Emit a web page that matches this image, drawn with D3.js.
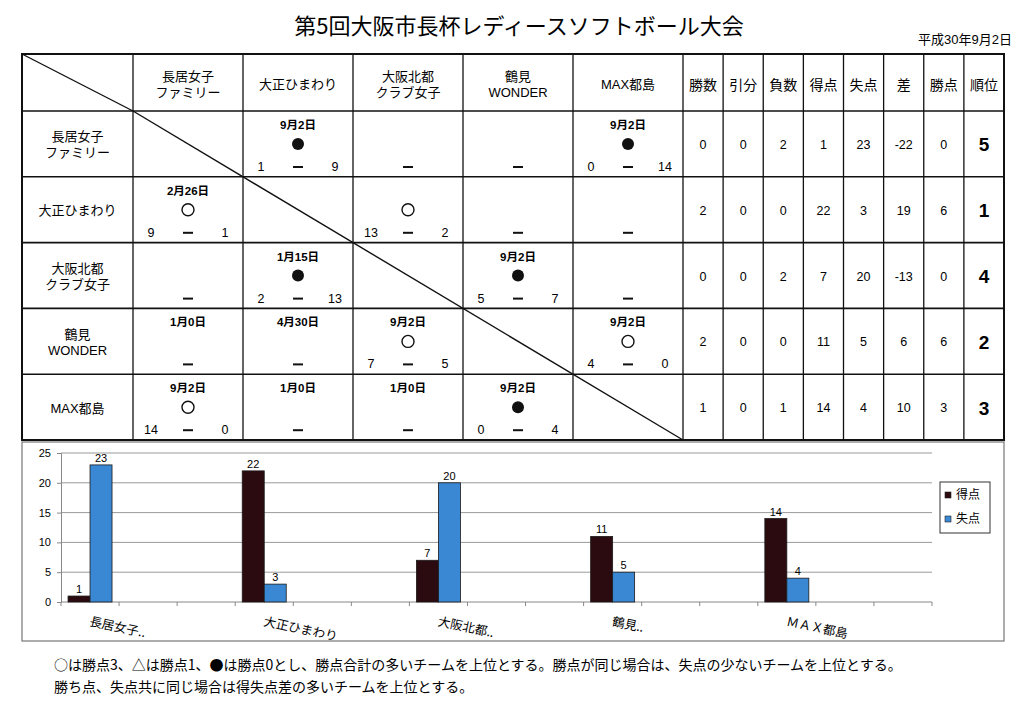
<!DOCTYPE html>
<html>
<head>
<meta charset="utf-8">
<script src="https://cdn.jsdelivr.net/npm/d3@7"></script>
<style>
  body { margin: 0; background: #fff; }
  text { font-family: "Liberation Sans", "Noto Sans CJK JP", sans-serif; fill: #000; }
</style>
</head>
<body>
<script>
// team names (table) and chart labels
var teamLines = [["長居女子", "ファミリー"], ["大正ひまわり"], ["大阪北都", "クラブ女子"], ["鶴見", "WONDER"], ["MAX都島"]];
var statHeaders = ["勝数", "引分", "負数", "得点", "失点", "差", "勝点", "順位"];

// match results, row team vs column team (null on the diagonal)
var matchDates = [
  [null, "9月2日", "", "", "9月2日"],
  ["2月26日", null, "", "", ""],
  ["", "1月15日", null, "9月2日", ""],
  ["1月0日", "4月30日", "9月2日", null, "9月2日"],
  ["9月2日", "1月0日", "1月0日", "9月2日", null]
];
var matchMarks = [
  [null, "●", "", "", "●"],
  ["○", null, "○", "", ""],
  ["", "●", null, "●", ""],
  ["", "", "○", null, "○"],
  ["○", "", "", "●", null]
];
var matchScores = [
  [null, [1, 9], null, null, [0, 14]],
  [[9, 1], null, [13, 2], null, null],
  [null, [2, 13], null, [5, 7], null],
  [null, null, [7, 5], null, [4, 0]],
  [[14, 0], null, null, [0, 4], null]
];

// standings
var wins = [0, 2, 0, 2, 1];
var draws = [0, 0, 0, 0, 0];
var losses = [2, 0, 2, 0, 1];
var scored = [1, 22, 7, 11, 14];
var conceded = [23, 3, 20, 5, 4];
var diff = [-22, 19, -13, 6, 10];
var points = [0, 6, 0, 6, 3];
var rank = [5, 1, 4, 2, 3];

// chart (every team takes three category rows, only the first labelled)
var chartCategories = ["長居女子..", "", "", "大正ひまわり", "", "", "大阪北都..", "", "", "鶴見..", "", "", "ＭＡＸ都島", "", ""];
var chartScored = [1, null, null, 22, null, null, 7, null, null, 11, null, null, 14, null, null];
var chartConceded = [23, null, null, 3, null, null, 20, null, null, 5, null, null, 4, null, null];
var seriesNames = ["得点", "失点"];
var seriesColors = ["#2c0b10", "#3a88d4"];
var yTicks = [0, 5, 10, 15, 20, 25];

var notes = [
  "○は勝点3、△は勝点1、●は勝点0とし、勝点合計の多いチームを上位とする。勝点が同じ場合は、失点の少ないチームを上位とする。",
  "勝ち点、失点共に同じ場合は得失点差の多いチームを上位とする。"
];

var svg = d3.select("body").append("svg")
  .attr("width", 1024)
  .attr("height", 712);

// title
svg.append("text")
  .attr("x", 519).attr("y", 34)
  .attr("text-anchor", "middle")
  .style("font-size", "22px")
  .style("font-family", "Noto Sans CJK JP, sans-serif")
  .text("第5回大阪市長杯レディースソフトボール大会");
svg.append("text")
  .attr("x", 1012).attr("y", 44)
  .attr("text-anchor", "end")
  .attr("textLength", 94)
  .style("font-size", "13px")
  .text("平成30年9月2日");

// ---------- table ----------
var left = 22, nameRight = 133, matchRight = 683, right = 1004;
var headTop = 54, headBottom = 111, bottom = 440;

var colX = d3.scaleBand().domain(d3.range(5)).range([nameRight, matchRight]);
var statX = d3.scaleBand().domain(d3.range(8)).range([matchRight, right]);
var rowY = d3.scaleBand().domain(d3.range(5)).range([headBottom, bottom]);

var grid = svg.append("g").attr("stroke", "#111").attr("fill", "none");

// horizontal lines
[headTop, headBottom].concat(d3.range(1, 5).map(function(i) { return rowY(i); })).concat([bottom])
  .forEach(function(y) {
    grid.append("line").attr("x1", left).attr("x2", right).attr("y1", y).attr("y2", y)
      .attr("stroke-width", 1.6);
  });
// vertical lines
[left, nameRight].concat(d3.range(1, 5).map(function(i) { return colX(i); }))
  .concat(d3.range(8).map(function(i) { return statX(i); })).concat([right])
  .forEach(function(x) {
    grid.append("line").attr("x1", x).attr("x2", x).attr("y1", headTop).attr("y2", bottom)
      .attr("stroke-width", 1.3);
  });
grid.append("rect").attr("x", left).attr("y", headTop)
  .attr("width", right - left).attr("height", bottom - headTop)
  .attr("stroke-width", 2);

// diagonals
grid.append("line").attr("x1", left).attr("y1", headTop).attr("x2", nameRight).attr("y2", headBottom)
  .attr("stroke-width", 1.4);
grid.append("line").attr("x1", nameRight).attr("y1", headBottom).attr("x2", matchRight).attr("y2", bottom)
  .attr("stroke-width", 1.4);

function multiLine(g, lines, cx, cy, size) {
  var gap = size + 3;
  lines.forEach(function(s, i) {
    g.append("text")
      .attr("x", cx)
      .attr("y", cy + (i - (lines.length - 1) / 2) * gap)
      .attr("text-anchor", "middle")
      .attr("dominant-baseline", "central")
      .style("font-size", size + "px")
      .text(s);
  });
}

var txt = svg.append("g");
var headMid = (headTop + headBottom) / 2 + 2;

// column headers
teamLines.forEach(function(lines, i) {
  multiLine(txt, lines, colX(i) + colX.bandwidth() / 2, headMid, 13);
});
statHeaders.forEach(function(h, i) {
  multiLine(txt, [h], statX(i) + statX.bandwidth() / 2, headMid, 14);
});

// row headers + cells
var statCols = [wins, draws, losses, scored, conceded, diff, points, rank];
teamLines.forEach(function(lines, r) {
  var top = rowY(r), h = rowY.bandwidth();
  multiLine(txt, lines, (left + nameRight) / 2, top + h / 2 + 1, 13);

  d3.range(5).forEach(function(c) {
    if (r === c) return;
    var x0 = colX(c), x1 = x0 + colX.bandwidth(), cx = (x0 + x1) / 2;
    if (matchDates[r][c]) {
      txt.append("text").attr("x", cx).attr("y", top + 14)
        .attr("text-anchor", "middle").attr("dominant-baseline", "central")
        .style("font-size", "11.5px").style("font-weight", "bold")
        .text(matchDates[r][c]);
    }
    if (matchMarks[r][c] === "●") {
      txt.append("circle").attr("cx", cx).attr("cy", top + 33).attr("r", 6).attr("fill", "#111");
    } else if (matchMarks[r][c] === "○") {
      txt.append("circle").attr("cx", cx).attr("cy", top + 33).attr("r", 6)
        .attr("fill", "none").attr("stroke", "#111").attr("stroke-width", 1.4);
    }
    var sy = top + 56;
    txt.append("line").attr("x1", cx - 5).attr("x2", cx + 5).attr("y1", sy).attr("y2", sy)
      .attr("stroke", "#111").attr("stroke-width", 2);
    var sc = matchScores[r][c];
    if (sc) {
      txt.append("text").attr("x", x0 + 18).attr("y", sy)
        .attr("text-anchor", "middle").attr("dominant-baseline", "central")
        .style("font-size", "12.5px").text(sc[0]);
      txt.append("text").attr("x", x1 - 18).attr("y", sy)
        .attr("text-anchor", "middle").attr("dominant-baseline", "central")
        .style("font-size", "12.5px").text(sc[1]);
    }
  });

  statCols.forEach(function(arr, k) {
    var isRank = k === 7;
    txt.append("text")
      .attr("x", statX(k) + statX.bandwidth() / 2)
      .attr("y", top + h / 2 + 1)
      .attr("text-anchor", "middle").attr("dominant-baseline", "central")
      .style("font-size", isRank ? "19px" : "12.5px")
      .style("font-weight", isRank ? "bold" : "normal")
      .text(arr[r] < 0 ? "-" + Math.abs(arr[r]) : arr[r]);
  });
});

// ---------- chart ----------
svg.append("rect")
  .attr("x", 22).attr("y", 442).attr("width", 982).attr("height", 199)
  .attr("fill", "none").attr("stroke", "#777").attr("stroke-width", 1.2);

var x = d3.scaleBand().domain(d3.range(chartCategories.length)).range([61, 932]);
var xs = d3.scaleBand().domain(seriesNames).range([0, x.bandwidth()]).paddingOuter(0.32);
var y = d3.scaleLinear().domain([0, 25]).range([602, 453]);

var chart = svg.append("g");

chart.selectAll("line.grid").data(yTicks.slice(1)).enter().append("line")
  .attr("class", "grid")
  .attr("x1", 61).attr("x2", 932)
  .attr("y1", function(d) { return y(d); }).attr("y2", function(d) { return y(d); })
  .attr("stroke", "#9a9a9a").attr("stroke-width", 1);

var yAxis = chart.append("g")
  .attr("transform", "translate(61,0)")
  .call(d3.axisLeft(y).tickValues(yTicks).tickSize(4).tickPadding(6));
yAxis.select(".domain").attr("stroke", "#888");
yAxis.selectAll(".tick line").attr("stroke", "#888");
yAxis.selectAll("text").style("font-size", "11px").style("font-family", "Liberation Sans, sans-serif").attr("fill", "#111");

// x axis line with ticks at category boundaries
chart.append("line").attr("x1", 61).attr("x2", 932).attr("y1", 602).attr("y2", 602)
  .attr("stroke", "#888");
chart.selectAll("line.xt").data(d3.range(chartCategories.length + 1)).enter().append("line")
  .attr("class", "xt")
  .attr("x1", function(d) { return 61 + d * x.step(); })
  .attr("x2", function(d) { return 61 + d * x.step(); })
  .attr("y1", 602).attr("y2", 606)
  .attr("stroke", "#888");

var series = [chartScored, chartConceded];
series.forEach(function(vals, s) {
  var pts = vals.map(function(v, i) { return { i: i, v: v }; }).filter(function(d) { return d.v != null; });
  chart.selectAll("rect.s" + s).data(pts).enter().append("rect")
    .attr("class", "s" + s)
    .attr("x", function(d) { return x(d.i) + xs(seriesNames[s]); })
    .attr("y", function(d) { return y(d.v); })
    .attr("width", xs.bandwidth())
    .attr("height", function(d) { return y(0) - y(d.v); })
    .attr("fill", seriesColors[s])
    .attr("stroke", "#1a1a1a").attr("stroke-width", 0.8);
  chart.selectAll("text.l" + s).data(pts).enter().append("text")
    .attr("class", "l" + s)
    .attr("x", function(d) { return x(d.i) + xs(seriesNames[s]) + xs.bandwidth() / 2; })
    .attr("y", function(d) { return y(d.v) - 3; })
    .attr("text-anchor", "middle")
    .style("font-size", "11px")
    .text(function(d) { return d.v; });
});

chart.selectAll("text.cat").data(chartCategories).enter().append("text")
  .attr("class", "cat")
  .attr("transform", function(d, i) {
    var cx = x(i) + x.bandwidth() / 2;
    return "translate(" + cx + ",620) rotate(12)";
  })
  .attr("dominant-baseline", "central")
  .style("font-size", "12.5px")
  .style("font-family", "Noto Sans CJK JP, sans-serif")
  .text(function(d) { return d; });

// legend
var lg = chart.append("g");
lg.append("rect").attr("x", 940).attr("y", 482).attr("width", 50).attr("height", 51)
  .attr("fill", "#fff").attr("stroke", "#333").attr("stroke-width", 1);
seriesNames.forEach(function(n, i) {
  var ly = 495 + i * 24;
  lg.append("rect").attr("x", 945).attr("y", ly - 3).attr("width", 6).attr("height", 6)
    .attr("fill", seriesColors[i]).attr("stroke", "#222").attr("stroke-width", 0.6);
  lg.append("text").attr("x", 956).attr("y", ly).attr("dominant-baseline", "central")
    .style("font-size", "12px").text(n);
});

// notes
notes.forEach(function(n, i) {
  svg.append("text").attr("x", 54).attr("y", 664 + i * 22)
    .attr("dominant-baseline", "central")
    .style("font-size", "14px")
    .style("font-family", "Noto Sans CJK JP, sans-serif")
    .text(n);
});
</script>
</body>
</html>
